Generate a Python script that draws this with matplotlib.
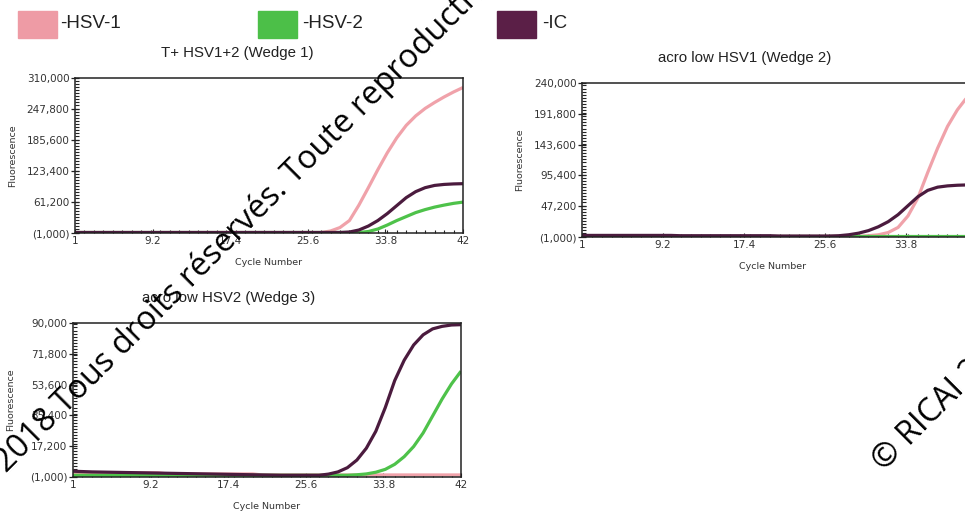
import matplotlib.pyplot as plt
from matplotlib.ticker import MultipleLocator, FuncFormatter
from matplotlib.patches import Rectangle

# ---- data ----
x_ticks = [1, 9.2, 17.4, 25.6, 33.8, 42]

cycles = list(range(1, 43))

# Wedge 1: T+ HSV1+2
w1_hsv1 = [0] * 26 + [0, 3000, 10000, 24000, 55000, 90000, 126000, 160000,
                      190000, 215000, 234000, 249000, 261000, 272000, 282000, 291000]
w1_hsv2 = [0] * 31 + [2000, 7000, 15000, 24000, 32000, 40000, 46000, 51000,
                      55000, 58500, 61000]
w1_ic = [0] * 29 + [1000, 5000, 13000, 24000, 38000, 54000, 70000, 82000,
                    90000, 94500, 96500, 97500, 98000]

# Wedge 2: acro low HSV1
w2_hsv1 = [0] * 29 + [1000, 2500, 6000, 14000, 32000, 60000, 100000, 138000,
                      172000, 198000, 218000, 230000, 236000]
w2_hsv2 = [0] * 42
w2_ic = [1500] * 10 + [1000] * 10 + [500] * 6 + [1000, 2500, 5000, 9000, 15000,
                                                  23000, 34000, 48000, 62000, 72000,
                                                  77000, 79000, 80000, 80500, 80500, 80500]

# Wedge 3: acro low HSV2
w3_hsv1 = [1500] * 10 + [800] * 10 + [200] * 22
w3_hsv2 = [0] * 29 + [0, 300, 800, 1800, 3500, 6500, 11000, 17000, 25000,
                      35000, 45000, 54000, 61500]
w3_ic = [2400, 2200, 2000, 1900, 1800, 1700, 1600, 1500, 1400, 1300,
         1200, 1100, 1000, 900, 800, 700, 600, 500, 400, 300,
         200, 100, 0, 0, 0, 0, 0, 700, 2000, 4500, 9000, 16000, 26000, 40000,
         56000, 68000, 77000, 83000, 86500, 88000, 88800, 89000]

y_tops = [310000, 240000, 90000]
y_steps = [62200, 48200, 18200]
titles = ["T+ HSV1+2 (Wedge 1)", "acro low HSV1 (Wedge 2)", "acro low HSV2 (Wedge 3)"]
series_labels = ["-HSV-1", "-HSV-2", "-IC"]

c_hsv1 = '#f0a2aa'
c_hsv2 = '#4ec24a'
c_ic = '#4b1b3e'
patch_colors = ['#ee9ba5', '#4cbf48', '#5b1f47']

fig = plt.figure(figsize=(9.65, 5.12), dpi=100)
fig.patch.set_facecolor('white')

positions = [
    [0.0777, 0.5449, 0.4021, 0.3027],
    [0.6031, 0.5371, 0.4197, 0.3008],
    [0.0756, 0.0684, 0.4021, 0.3008],
]
title_x = [0.418, 0.402, 0.40]
data = [
    (w1_hsv1, w1_hsv2, w1_ic),
    (w2_hsv1, w2_hsv2, w2_ic),
    (w3_hsv1, w3_hsv2, w3_ic),
]


def yfmt(v, pos):
    v = int(round(v))
    if v < 0:
        return f'({-v:,})'
    return f'{v:,}'


for i in range(3):
    ax = fig.add_axes(positions[i])
    hsv1, hsv2, ic = data[i]
    ax.plot(cycles, hsv1, color=c_hsv1, lw=2.3, solid_capstyle='butt')
    ax.plot(cycles, hsv2, color=c_hsv2, lw=2.3, solid_capstyle='butt')
    ax.plot(cycles, ic, color=c_ic, lw=2.3, solid_capstyle='butt')

    ybot = y_tops[i] - 5 * y_steps[i]
    ax.set_xlim(1, 42)
    ax.set_ylim(ybot, y_tops[i])
    ax.set_xticks(x_ticks)
    ax.set_xticklabels([f'{t:g}' for t in x_ticks])
    ax.set_yticks([ybot + k * y_steps[i] for k in range(6)])
    ax.yaxis.set_major_formatter(FuncFormatter(yfmt))
    ax.yaxis.set_minor_locator(MultipleLocator(y_steps[i] / 10))
    ax.xaxis.set_minor_locator(MultipleLocator(1))

    ax.tick_params(axis='y', which='major', direction='inout', length=6, width=0.9,
                   labelsize=7.5, pad=1, colors='#222222')
    ax.tick_params(axis='y', which='minor', direction='in', length=3, width=0.8,
                   colors='#222222')
    ax.tick_params(axis='x', which='major', direction='in', length=3, width=0.8,
                   labelsize=7.5, pad=2, colors='#222222')
    ax.tick_params(axis='x', which='minor', direction='in', length=2.5, width=0.8,
                   colors='#222222')
    for lab in ax.get_xticklabels() + ax.get_yticklabels():
        lab.set_color('#333333')
    for s in ax.spines.values():
        s.set_color('#222222')
        s.set_linewidth(1.1)

    ax.text(title_x[i], 1.16, titles[i], transform=ax.transAxes, ha='center',
            va='center', fontsize=10.8, family='Liberation Sans', color='#222222')
    ax.text(0.5 if i != 1 else 0.47, -0.19, 'Cycle Number', transform=ax.transAxes,
            ha='center', va='center', fontsize=6.8, color='#333333')
    ax.text(-0.16 if i != 1 else -0.155, 0.5, 'Fluorescence', transform=ax.transAxes,
            ha='center', va='center', rotation=90, fontsize=6.8, color='#333333')

# ---- legend at the top ----
legend_boxes = [(18, 258, 497), (60, 302, 542)]
for k in range(3):
    x0 = legend_boxes[0][k]
    fig.patches.append(Rectangle((x0 / 965, 1 - 38 / 512), 39 / 965, 27 / 512,
                                 transform=fig.transFigure, color=patch_colors[k],
                                 zorder=1))
    fig.text(legend_boxes[1][k] / 965, 1 - 24 / 512, series_labels[k], ha='left',
             va='center', fontsize=13.5, family='Liberation Sans', color='#222222')

# ---- watermark ----
wm_kw = dict(rotation=45, rotation_mode='anchor', va='baseline', fontsize=23.5,
             family='Open Sans', color='black', zorder=10)
fig.text(6 / 965, 1 - 473 / 512, '© RICAI ', ha='right', **wm_kw)
fig.text(6 / 965, 1 - 473 / 512,
         '2018 Tous droits réservés. Toute reproduction interdite', ha='left', **wm_kw)
fig.text(884 / 965, 1 - 472 / 512, '© RICAI 2018 Tous droits réservés.', ha='left', **wm_kw)

fig.savefig('out.png', dpi=100, facecolor='white')
